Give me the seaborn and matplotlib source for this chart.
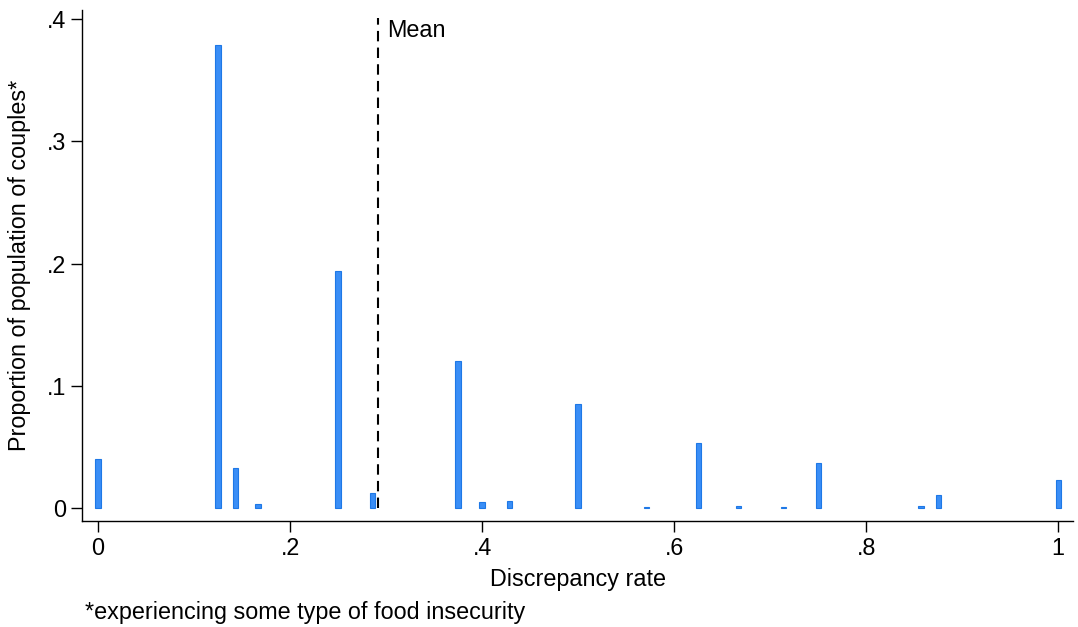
import numpy as np
import pandas as pd
import matplotlib
matplotlib.use("Agg")
import matplotlib.pyplot as plt
import seaborn as sns

# discrepancy rates (fractions of items) and share of couples
rates = [0, 1/8, 1/7, 1/6, 1/4, 2/7, 3/8, 2/5, 3/7, 1/2, 4/7, 5/8, 2/3, 5/7, 3/4, 6/7, 7/8, 1]
shares = [0.040, 0.379, 0.033, 0.003, 0.194, 0.012, 0.120, 0.005, 0.006, 0.085,
          0.001, 0.053, 0.002, 0.001, 0.037, 0.002, 0.011, 0.023]
mean_rate = 0.2917
x_ticks = [0, 0.2, 0.4, 0.6, 0.8, 1]
x_labels = ["0", ".2", ".4", ".6", ".8", "1"]
y_ticks = [0, 0.1, 0.2, 0.3, 0.4]
y_labels = ["0", ".1", ".2", ".3", ".4"]

df = pd.DataFrame({"rate": rates, "share": shares})

sns.set_style("white")
plt.rcParams["font.family"] = ["Liberation Sans", "DejaVu Sans"]
plt.rcParams["text.color"] = "black"
plt.rcParams["axes.labelcolor"] = "black"
plt.rcParams["xtick.color"] = "black"
plt.rcParams["ytick.color"] = "black"

fs = 16.8

fig = plt.figure(figsize=(10.78, 6.27), dpi=100)
ax = fig.add_axes([0.076, 0.169, 0.9195, 0.815])

sns.barplot(data=df, x="rate", y="share", native_scale=True, width=0.3,
            color="#3a8ef6", saturation=1, edgecolor="#1e78e6", linewidth=0.8, ax=ax)

ax.axvline(mean_rate, ymin=0.026, ymax=0.985, color="black", linestyle=(0, (5, 3)), linewidth=1.5)
ax.text(mean_rate + 0.009, 0.391, "Mean", fontsize=fs, va="center", ha="left")

ax.set_xlim(-0.0167, 1.0156)
ax.set_ylim(-0.0106, 0.4074)
ax.set_xticks(x_ticks, x_labels)
ax.set_yticks(y_ticks, y_labels)
ax.tick_params(axis="both", labelsize=fs, length=8, width=1, direction="out",
               bottom=True, left=True, color="black", labelcolor="black")
ax.set_xlabel("Discrepancy rate", fontsize=fs, labelpad=6)
ax.set_ylabel("Proportion of population of couples*", fontsize=fs, labelpad=11)

sns.despine(ax=ax)
for side in ["left", "bottom"]:
    ax.spines[side].set_color("black")
    ax.spines[side].set_linewidth(1)

fig.text(0.079, 0.023, "*experiencing some type of food insecurity", fontsize=fs, ha="left", va="center")

fig.savefig("out.png", dpi=100)
